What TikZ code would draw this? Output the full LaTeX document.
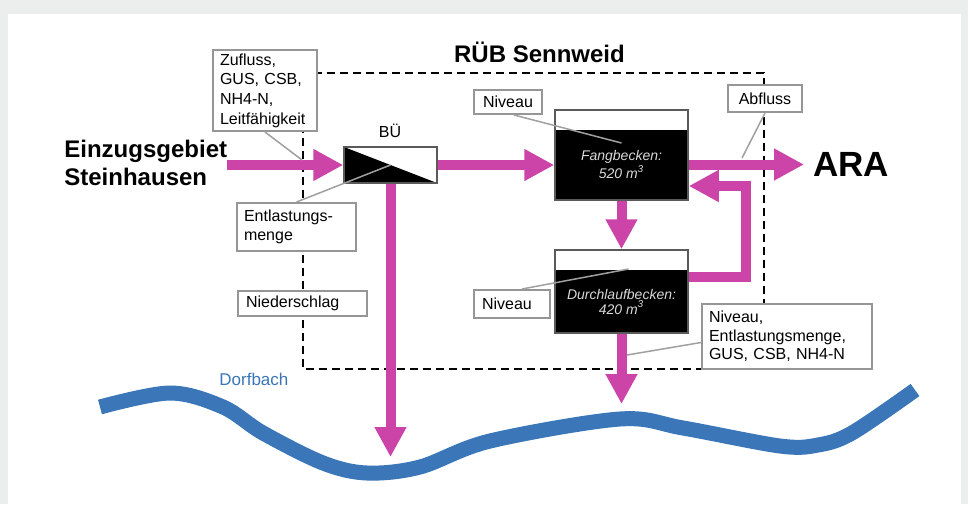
\documentclass[tikz,border=0pt]{standalone}
\usepackage{fontspec}
\setmainfont{Liberation Sans}
\usetikzlibrary{arrows.meta, positioning}

\definecolor{flowpink}{RGB}{204,68,168}
\definecolor{riverblue}{RGB}{58,118,184}
\definecolor{boxgray}{RGB}{150,150,150}
\definecolor{leadgray}{RGB}{160,160,160}
\definecolor{bggray}{RGB}{236,238,237}
\definecolor{tankgray}{RGB}{90,90,90}

\tikzset{
  labelbox/.style={draw=boxgray, line width=1pt, fill=white, inner xsep=3.5pt, inner ysep=0pt,
    font=\fontsize{8}{9.8}\selectfont, align=left, anchor=north west},
  tank/.style={draw=tankgray, line width=0.75pt, fill=black, minimum width=66.5pt,
    path picture={\fill[white] (path picture bounding box.north west) rectangle
      ([yshift=-9.75pt]path picture bounding box.north east);}},
  tanktext/.style={text=black!15, font=\fontsize{7}{7.5}\selectfont\itshape, align=center},
  buebox/.style={draw=tankgray, line width=0.75pt, fill=white, minimum width=46.5pt,
    minimum height=18pt, inner sep=0pt,
    path picture={\fill[black] (path picture bounding box.north west) --
      (path picture bounding box.south east) -- (path picture bounding box.south west) -- cycle;}},
  flow/.style={draw=flowpink, line width=5pt, -{Triangle[length=15pt,width=15pt]}},
  leader/.style={draw=leadgray, line width=0.75pt},
}

\begin{document}
\begin{tikzpicture}[x=0.5pt, y=-0.5pt]
  \useasboundingbox (0,0) rectangle (968,504);
  \fill[bggray] (0,0) rectangle (968,504);
  \fill[white] (8,14) rectangle (961,504);

  % RUEB boundary and creek
  \draw[line width=1pt, dash pattern=on 4pt off 2.5pt] (303,73) rectangle (764,369);
  \draw[riverblue, line width=7.5pt] plot[smooth, tension=0.55] coordinates {(100,407) (170,393)
    (223,407) (263,433) (323,463) (367,473) (420,467) (490,441) (620,419) (683,428)
    (780,446) (818,445) (852,433) (915,390)};

  \node[tank, minimum height=45pt] (fang) at (621.5,155) {};
  \node[tank, minimum height=41.5pt] (durch) at (621.5,291.5) {};
  \node[tanktext] (fangtxt) at ([yshift=-4.75pt]fang.center) {Fangbecken:\\520 m\textsuperscript{3}};
  \node[tanktext] (durchtxt) at ([yshift=-5pt]durch.center) {Durchlaufbecken:\\420 m\textsuperscript{3}};
  \node[buebox] (bue) at (390.5,165) {};
  \node[font=\fontsize{8}{9}\selectfont, anchor=base] (buelbl) at (390,137) {BÜ};

  \node[font=\fontsize{12}{14}\selectfont\bfseries, align=left, anchor=north west, inner sep=0pt]
    (ezg) at (64,140) {Einzugsgebiet\\Steinhausen};
  \node[font=\fontsize{17.5}{20}\selectfont\bfseries, anchor=west, inner xsep=4.5pt]
    (ara) at (804,164.5) {ARA};
  \node[font=\fontsize{12}{14}\selectfont\bfseries, anchor=base] (title) at (539.5,62) {RÜB Sennweid};
  \node[font=\fontsize{8.5}{10}\selectfont, text=riverblue, anchor=base west, inner sep=0pt]
    (dorf) at (219,385) {Dorfbach};

  \begin{scope}[every node/.style={labelbox}]
    \node[text width=45pt, minimum height=40.5pt] (zufluss) at (212,49) {Zufluss,\\GUS, CSB,\\NH4-N,\\Leitfähigkeit};
    \node[text width=52.5pt, minimum height=24pt] (entlast) at (236,202) {Entlastungs-\\menge};
    \node[text width=56.5pt, inner xsep=4pt, minimum height=12.5pt] (nieder) at (237,290) {Niederschlag};
    \node[align=center, text width=26pt, inner xsep=4pt, minimum height=12pt] (niv1) at (473,89) {Niveau};
    \node[text width=30pt, inner xsep=4pt, minimum height=14pt] (niv2) at (473,289) {Niveau};
    \node[align=center, text width=29pt, inner xsep=4pt, minimum height=13.5pt] (abfl) at (727,84) {Abfluss};
    \node[text width=78pt, minimum height=32.5pt, font=\fontsize{8}{9.25}\selectfont]
      (bigbox) at (701,303) {Niveau,\\Entlastungsmenge,\\GUS, CSB, NH4-N};
  \end{scope}

  \coordinate (outA) at (391,457);
  \coordinate (outB) at (621,404);
  \coordinate (pZu) at (302,160);
  \coordinate (pAb) at (742,158);
  \coordinate (pBig) at (627,355);

  % flows
  \draw[flow] (ezg.east |- bue.west) -- (bue.west);
  \draw[flow] (bue.east) -- (fang.west |- bue.east);
  \draw[flow] (bue.south) -- (bue.south |- outA);
  \draw[flow] (fang.east |- ara.west) -- (ara.west);
  \draw[flow] (fang.south) -- (durch.north);
  \draw[flow] (durch.south) -- (durch.south |- outB);
  \draw[flow] ([yshift=7.25pt]durch.east) -- ++(57,0) |- ([yshift=-15.5pt]fang.east);

  % leader lines
  \draw[leader] (zufluss.south) -- (pZu);
  \draw[leader] (entlast.north) -- (bue.center);
  \draw[leader] ([xshift=3pt]niv1.south) -- ([yshift=6pt]fang.center);
  \draw[leader] ([xshift=5pt]niv2.north) -- ([xshift=3.5pt,yshift=11.25pt]durch.center);
  \draw[leader] (abfl.south) -- (pAb);
  \draw[leader] ([yshift=-3pt]bigbox.west) -- (pBig);
\end{tikzpicture}
\end{document}
